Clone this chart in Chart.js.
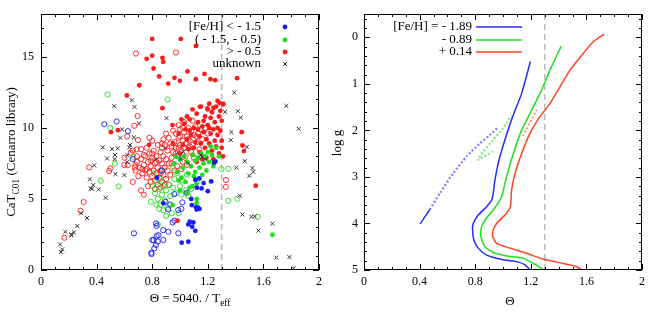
<!DOCTYPE html>
<html>
<head>
<meta charset="utf-8">
<script src="https://cdn.jsdelivr.net/npm/chart.js@4.4.0/dist/chart.umd.min.js"></script>
<style>
html, body { margin: 0; padding: 0; background: #fff; }
#wrap { position: relative; width: 656px; height: 313px; }
.pane { position: absolute; top: 0; width: 328px; height: 313px; }
</style>
</head>
<body>
<div id="wrap">
  <div class="pane" style="left:0"><canvas id="catChart"></canvas></div>
  <div class="pane" style="left:328px"><canvas id="isoChart"></canvas></div>
</div>
<script>
(function(){
    "use strict";

    // axis ticks
    var thetaTicks = [0, 0.4, 0.8, 1.2, 1.6, 2];
    var thetaLabels = ["0", "0.4", "0.8", "1.2", "1.6", "2"];
    var catTicks = [0, 5, 10, 15];
    var loggTicks = [0, 1, 2, 3, 4, 5];
    var thetaCut = 1.3;

    // left panel: CaT index vs theta, [x, y]
    var metalClasses = ["[Fe/H] < - 1.5", "( - 1.5, - 0.5)", "> - 0.5", "unknown"];

    var redOpen = [
        [0.683,15.23],[0.971,15.31],[0.695,10.83],[0.671,10.15],[0.698,9.14],[0.688,8.49],[0.645,8.25],[0.66,8.4],
        [0.624,7.38],[0.60,7.38],[0.68,7.4],[0.675,7.2],[0.50,7.15],[0.49,6.96],[0.347,7.22],[0.307,4.78],
        [0.285,4.17],[0.168,2.27],[0.62,9.4],[0.60,7.9],[0.66,6.2],[1.33,6.33],[1.33,5.85],
        [0.72,7.8],[0.74,7.4],[0.75,8.0],[0.76,7.1],[0.77,7.6],[0.78,6.9],[0.78,8.2],[0.79,7.3],[0.80,6.6],
        [0.80,7.9],[0.81,7.0],[0.81,8.4],[0.82,6.3],[0.82,7.5],[0.83,6.8],[0.83,8.0],[0.84,7.2],[0.84,6.0],
        [0.85,7.7],[0.85,6.5],[0.86,8.3],[0.86,7.0],[0.87,6.2],[0.87,7.5],[0.88,8.0],[0.88,6.7],[0.89,7.2],
        [0.89,8.8],[0.90,7.8],[0.90,6.4],[0.91,7.0],[0.91,8.4],[0.92,7.5],[0.92,6.0],[0.79,6.2],[0.77,5.9],
        [0.76,6.5],[0.75,7.0],[0.73,6.8],[0.71,7.2],[0.70,6.6],[0.69,7.6],[0.68,7.0],[0.72,5.6],[0.74,5.3],
        [0.82,5.7],[0.86,5.8],[0.93,8.9],[0.94,7.9],[0.72,8.5],[0.80,9.1],[0.69,8.0],[0.76,8.6],[0.78,9.3],
        [0.84,8.8],[0.89,6.0],[0.73,7.1],[0.83,7.6],[0.87,8.6],[0.80,8.2],[0.74,8.1],[0.86,6.8],[0.79,7.7],
        [0.95,8.3],[0.96,9.0],[0.97,8.6],[0.97,9.6],[0.98,8.0],[0.99,9.3],[1.00,8.8],[1.00,9.9],[1.01,8.4],
        [1.02,9.1],[1.02,7.6],[1.03,9.7],[1.04,8.9],[1.04,8.0],[1.05,9.4],[1.06,8.6],[1.06,10.0],[1.07,9.1],
        [1.08,8.3],[1.08,9.8],[1.09,8.8],[1.10,9.5],[1.10,7.9],[1.11,10.1],[1.12,9.0],[1.13,9.6],[1.14,8.5],
        [1.15,9.9],[1.16,9.2],[1.18,10.0],[1.20,9.6],[0.98,7.3],[0.96,7.0],[0.94,7.5],[1.01,7.1],[1.05,7.4],
        [0.93,6.7],[0.99,10.2],[1.03,10.4],[0.95,9.8],[0.92,9.3],[0.90,9.6],[0.88,9.2],[0.87,8.9],[1.09,10.5],
        [0.97,8.2],[1.00,9.4],[1.03,8.6],[1.06,9.2],[0.99,8.6],[1.02,10.0],[1.07,8.7],[1.12,9.4],[0.94,8.7]
    ];
    var greenOpen = [
        [0.479,12.35],[0.911,12.0],[0.498,10.0],[0.532,7.48],[0.558,5.88],[0.43,6.28],[0.665,7.95],
        [1.298,7.1],[1.348,7.12],[1.348,4.87],[1.413,5.01],[1.559,3.73],
        [0.80,5.9],[0.82,5.4],[0.83,6.2],[0.84,5.0],[0.85,5.7],[0.86,4.6],[0.86,6.4],[0.87,5.3],[0.88,4.2],
        [0.88,5.9],[0.89,4.9],[0.90,5.6],[0.91,4.4],[0.92,6.0],[0.93,5.2],[0.94,4.0],[0.95,5.8],[0.96,6.4],
        [0.97,5.4],[0.98,6.8],[1.00,5.9],[1.01,5.3],[1.02,6.3],[1.04,5.6],[1.06,5.2],[1.08,5.7],[0.84,3.2],
        [0.85,4.3],[0.99,4.0],[0.79,4.8],[0.81,6.8],[0.87,7.0],[1.05,6.7],[0.90,3.8],[0.95,7.2],[0.83,4.6]
    ];
    var blueOpen = [
        [0.455,10.26],[0.544,10.45],[0.625,9.77],[0.669,2.58],[0.66,7.8],[0.795,1.12],[0.81,2.1],[0.80,2.11],
        [0.815,1.53],[0.826,1.75],[0.794,1.22],[0.827,3.28],[0.832,3.1],[0.832,2.39],[0.845,2.45],[0.84,2.0],
        [0.88,2.11],[0.879,2.81],[0.916,2.69],[0.947,3.35],[0.96,3.47],[0.988,2.58],[0.987,4.22],[1.017,4.76],
        [1.01,4.3],[0.959,5.34],[1.048,5.44],[0.915,4.27],[0.896,4.8],[0.93,4.6],[0.87,7.0],[0.99,8.1]
    ];
    var redFilled = [
        [0.80,16.26],[1.006,16.26],[1.114,15.77],[0.76,14.86],[0.80,15.09],[0.874,14.93],[0.879,14.65],
        [0.81,14.18],[1.054,13.97],[1.176,13.80],[0.85,13.62],[0.96,13.52],[1.114,13.43],[1.219,13.43],
        [1.253,13.36],[1.41,13.5],[0.999,13.31],[0.915,13.12],[0.707,13.0],[0.618,12.28],[0.503,9.70],
        [0.553,9.84],[0.946,10.2],[0.778,8.81],[0.982,3.47],[1.444,9.7],[1.449,8.76],[1.46,8.37],
        [1.545,5.93],[1.31,11.65],[0.874,11.39],[1.144,11.48],[1.197,11.37],[1.283,11.77],
        [1.00,8.2],[1.02,8.8],[1.03,10.3],[1.05,9.2],[1.06,8.5],[1.07,10.6],[1.08,9.5],[1.09,8.1],[1.10,10.0],
        [1.11,9.0],[1.12,11.0],[1.13,10.4],[1.14,9.4],[1.14,8.3],[1.15,11.5],[1.16,10.1],[1.17,9.7],[1.18,8.6],
        [1.18,10.8],[1.19,9.2],[1.20,11.3],[1.20,10.2],[1.21,8.9],[1.22,9.6],[1.22,10.7],[1.23,11.1],[1.23,8.4],
        [1.24,9.9],[1.25,10.4],[1.25,9.1],[1.26,11.5],[1.26,8.7],[1.27,10.0],[1.27,9.5],[1.28,10.8],[1.28,8.2],
        [1.29,11.2],[1.29,9.8],[1.30,10.5],[1.30,9.1],[1.31,11.7],[1.31,8.0],[1.16,7.8],[1.12,7.6],[1.05,10.8],
        [1.09,11.3],[1.21,11.7],[1.19,7.9],[0.95,8.9],[0.99,9.6],[1.04,9.9],[1.01,10.6],[1.10,8.6],[1.15,8.9],
        [1.24,7.8],[1.30,8.6],[1.27,11.9],[1.13,9.9],[1.17,10.5],[1.21,10.0],[1.24,11.4],[1.07,9.8]
    ];
    var greenFilled = [
        [0.96,7.5],[0.98,6.9],[1.00,7.8],[1.01,6.5],[1.02,7.2],[1.03,8.0],[1.04,6.2],[1.05,7.6],[1.06,6.8],
        [1.07,5.8],[1.08,7.3],[1.09,8.1],[1.10,6.6],[1.11,7.7],[1.12,6.1],[1.13,7.9],[1.14,7.2],[1.15,8.2],
        [1.16,6.7],[1.17,7.5],[1.18,8.0],[1.19,7.0],[1.20,8.3],[1.21,7.6],[1.23,8.1],[1.24,7.3],[1.26,8.6],
        [1.28,8.0],[1.00,5.6],[1.05,5.4],[1.09,5.9],[0.99,6.3],[1.11,6.9],[1.14,6.4],[1.22,8.7],[0.97,8.0],
        [1.665,2.48],[0.947,4.57],[1.12,5.0],[1.12,4.7]
    ];
    var blueFilled = [
        [0.834,6.49],[0.88,4.69],[1.012,1.92],[1.06,1.99],[1.081,5.0],[1.085,4.57],[1.115,4.41],[1.13,4.38],
        [1.14,4.30],[1.12,4.25],[1.06,3.21],[1.096,3.35],[1.088,3.04],[1.11,2.76],[1.07,3.40],[1.121,5.79],
        [1.155,5.74],[1.17,6.12],[1.20,5.55],[1.224,6.23],[1.255,7.64],[1.245,7.55],[1.138,6.45],[1.11,6.35]
    ];
    var unknownStars = [
        [0.137,1.80],[0.144,1.27],[0.153,1.45],[0.175,2.69],[0.216,2.51],[0.22,2.44],[0.237,2.65],[0.261,3.09],
        [0.288,3.99],[0.331,3.66],[0.352,6.38],[0.357,5.74],[0.376,5.98],[0.367,5.72],[0.383,7.36],[0.415,5.67],
        [0.444,8.63],[0.465,5.08],[0.475,7.85],[0.511,8.51],[0.53,7.8],[0.527,11.53],[0.535,6.75],[0.532,8.09],
        [0.552,8.56],[0.571,9.3],[0.583,9.89],[0.60,6.68],[0.621,8.09],[0.62,7.6],[0.635,8.63],[0.64,8.8],
        [0.652,11.95],[0.669,9.33],[0.673,11.48],[0.705,10.31],[0.903,10.69],[0.897,8.56],[0.827,7.78],
        [1.024,8.32],[1.151,8.09],[1.18,7.78],[1.005,7.8],[1.058,7.5],[1.324,11.13],[1.39,12.49],[1.416,11.18],
        [1.437,10.73],[1.37,9.7],[1.365,9.14],[1.48,8.65],[1.406,7.2],[1.466,7.66],[1.499,6.63],[1.521,7.17],
        [1.528,6.91],[1.43,5.23],[1.449,3.91],[1.514,3.75],[1.538,3.77],[1.564,2.77],[1.665,3.26],[1.693,0.87],
        [1.787,0.91],[1.765,11.55],[1.854,9.94],[1.818,0.12],[1.245,7.57],[1.157,7.97]
    ];

    // right panel: isochrones, [theta, log g]
    var isoMetals = ["[Fe/H] = - 1.89", "- 0.89", "+ 0.14"];
    var isoBlue = [[1.197,0.52],[1.135,1.2],[1.07,1.70],[1.014,2.2],[0.971,2.64],[0.942,3.07],[0.93,3.35],
        [0.918,3.5],[0.882,3.64],[0.822,3.82],[0.786,4.0],[0.781,4.14],[0.791,4.36],[0.822,4.53],[0.882,4.68],
        [1.002,4.78],[1.099,4.82],[1.159,4.89],[1.195,5.0]];
    var isoGreen = [[1.418,0.19],[1.339,0.70],[1.267,1.2],[1.195,1.63],[1.135,1.99],[1.075,2.49],[1.026,2.99],
        [0.998,3.35],[0.978,3.50],[0.93,3.71],[0.87,3.93],[0.846,4.07],[0.841,4.28],[0.87,4.50],[0.942,4.64],
        [1.05,4.71],[1.147,4.75],[1.219,4.86],[1.291,4.99]];
    var isoRed = [[1.728,-0.07],[1.651,0.09],[1.579,0.34],[1.483,0.70],[1.411,1.06],[1.339,1.42],[1.267,1.70],
        [1.195,2.06],[1.135,2.49],[1.087,2.92],[1.062,3.28],[1.053,3.64],[1.026,3.78],[0.954,4.0],[0.93,4.14],
        [0.926,4.28],[0.954,4.43],[1.05,4.53],[1.171,4.64],[1.291,4.77],[1.435,4.86],[1.531,4.93],[1.567,5.0]];
    var blueStub = [[0.404,4.01],[0.474,3.70]];
    var hbBlue = [[0.474,3.70],[0.546,3.35],[0.642,2.92],[0.738,2.56],[0.834,2.28],[0.906,2.10],[0.966,1.93]];
    var hbGreen = [[0.93,2.45],[0.82,2.63],[0.86,2.45],[0.93,2.2],[1.0,1.95],[1.06,1.68]];
    var hbRed = [[1.142,2.12],[1.243,1.56]];

    var serif = "'Liberation Serif', 'DejaVu Serif', serif";
    var cBlue = "#1a1aff", cGreen = "#1fdc1f", cRed = "#ff1a1a", cCross = "#333333";
    var lBlue = "#2a2aff", lGreen = "#22dd22", lRed = "#ff4422";

    Chart.defaults.font.family = serif;
    Chart.defaults.color = "#000";
    Chart.defaults.animation = false;

    function xy(list) {
        return list.map(function(p){ return {x: p[0], y: p[1]}; });
    }

    function scale(min, max, values, labels, pad, width, horiz, reverse) {
        return {
            type: "linear", min: min, max: max, reverse: !!reverse,
            grid: {display: false, drawTicks: false},
            border: {display: false},
            ticks: {
                font: {size: 12, family: serif}, color: "#000", padding: pad,
                callback: function(v){
                    var i = values.indexOf(v);
                    return i < 0 ? "" : labels[i];
                }
            },
            afterBuildTicks: function(s){ s.ticks = values.map(function(v){ return {value: v}; }); },
            afterFit: function(s){ if (horiz) { s.height = width; } else { s.width = width; } }
        };
    }

    var framePlugin = {
        id: "frame",
        afterDraw: function(chart, args, opts) {
            var ctx = chart.ctx, a = chart.chartArea;
            ctx.save();
            ctx.strokeStyle = "#000";
            ctx.lineWidth = 1;
            ctx.strokeRect(Math.round(a.left) + 0.5, Math.round(a.top) + 0.5,
                Math.round(a.width) - 1, Math.round(a.height) - 1);
            function marks(sc, step, horiz) {
                var majors = sc.ticks.map(function(t){ return t.value; });
                var lo = Math.min(sc.min, sc.max), hi = Math.max(sc.min, sc.max);
                for (var i = Math.ceil(lo / step - 1e-6); i * step <= hi + 1e-6; i++) {
                    var v = i * step;
                    var big = majors.some(function(m){ return Math.abs(m - v) < 1e-6; });
                    var len = big ? 6 : 3;
                    var p = Math.round(sc.getPixelForValue(v)) + 0.5;
                    ctx.beginPath();
                    if (horiz) {
                        ctx.moveTo(p, a.bottom); ctx.lineTo(p, a.bottom - len);
                        ctx.moveTo(p, a.top); ctx.lineTo(p, a.top + len);
                    } else {
                        ctx.moveTo(a.left, p); ctx.lineTo(a.left + len, p);
                        ctx.moveTo(a.right, p); ctx.lineTo(a.right - len, p);
                    }
                    ctx.stroke();
                }
            }
            marks(chart.scales.x, opts.minorX, true);
            marks(chart.scales.y, opts.minorY, false);
            ctx.restore();
        }
    };

    // text with subscripts, centred on cx, baseline cy
    function subText(ctx, parts, cx, cy, size) {
        var total = 0, x;
        parts.forEach(function(p){
            ctx.font = (p[1] ? size * 0.72 : size) + "px " + serif;
            total += ctx.measureText(p[0]).width;
        });
        x = cx - total / 2;
        ctx.textAlign = "left";
        ctx.textBaseline = "alphabetic";
        parts.forEach(function(p){
            ctx.font = (p[1] ? size * 0.72 : size) + "px " + serif;
            ctx.fillText(p[0], x, cy + (p[1] ? size * 0.28 : 0));
            x += ctx.measureText(p[0]).width;
        });
    }

    var catDeco = {
        id: "catDeco",
        afterDraw: function(chart) {
            var ctx = chart.ctx;
            ctx.save();
            ctx.fillStyle = "#000";
            subText(ctx, [["\u0398 = 5040. / T", false], ["eff", true]], 190, 302, 13);
            ctx.translate(15, 152);
            ctx.rotate(-Math.PI / 2);
            subText(ctx, [["CaT", false], ["C01", true], [" (Cenarro library)", false]], 0, 0, 13);
            ctx.restore();

            ctx.save();
            ctx.font = "13px " + serif;
            ctx.fillStyle = "#000";
            ctx.textAlign = "right";
            ctx.textBaseline = "middle";
            var rows = [27, 40, 52, 64];
            var cols = [cBlue, cGreen, cRed, null];
            metalClasses.forEach(function(t, i){
                ctx.fillStyle = "#000";
                ctx.fillText(t, 261, rows[i]);
                if (cols[i]) {
                    ctx.fillStyle = cols[i];
                    ctx.beginPath();
                    ctx.arc(285, rows[i], 2.4, 0, Math.PI * 2);
                    ctx.fill();
                } else {
                    ctx.strokeStyle = cCross;
                    ctx.lineWidth = 1;
                    ctx.beginPath();
                    ctx.moveTo(283, rows[i] - 2); ctx.lineTo(287, rows[i] + 2);
                    ctx.moveTo(283, rows[i] + 2); ctx.lineTo(287, rows[i] - 2);
                    ctx.stroke();
                }
            });
            ctx.restore();
        }
    };

    var isoDeco = {
        id: "isoDeco",
        afterDraw: function(chart) {
            var ctx = chart.ctx;
            ctx.save();
            ctx.fillStyle = "#000";
            subText(ctx, [["\u0398", false]], 182, 305, 13);
            ctx.translate(13, 143);
            ctx.rotate(-Math.PI / 2);
            subText(ctx, [["log g", false]], 0, 0, 13);
            ctx.restore();

            ctx.save();
            ctx.font = "13px " + serif;
            ctx.textAlign = "right";
            ctx.textBaseline = "middle";
            var rows = [27, 40, 52];
            var cols = [lBlue, lGreen, lRed];
            isoMetals.forEach(function(t, i){
                ctx.fillStyle = "#000";
                ctx.fillText(t, 144, rows[i]);
                ctx.strokeStyle = cols[i];
                ctx.lineWidth = 1.5;
                ctx.beginPath();
                ctx.moveTo(148, rows[i]); ctx.lineTo(194, rows[i]);
                ctx.stroke();
            });
            ctx.restore();
        }
    };

    function dots(list, color) {
        return {data: xy(list), pointStyle: "circle", pointRadius: 2.4, pointBorderWidth: 0,
            backgroundColor: color, borderColor: color};
    }
    function rings(list, color) {
        return {data: xy(list), pointStyle: "circle", pointRadius: 2.6, pointBorderWidth: 0.9,
            backgroundColor: "rgba(0,0,0,0)", borderColor: color};
    }
    function curve(list, color, dash, width) {
        return {data: xy(list), showLine: true, pointRadius: 0, borderColor: color,
            borderWidth: width || 1.5, borderDash: dash || [], tension: 0.2, fill: false};
    }

    var cutLine = {data: xy([[thetaCut, 0], [thetaCut, 18]]), showLine: true, pointRadius: 0,
        borderColor: "#bdbdbd", borderWidth: 1.5, borderDash: [6, 4]};

    new Chart(document.querySelector("#catChart"), {
        type: "scatter",
        data: {
            datasets: [
                {data: xy(unknownStars), pointStyle: "crossRot", pointRadius: 2.8, pointBorderWidth: 1,
                    borderColor: cCross, backgroundColor: cCross},
                dots(blueFilled, cBlue),
                dots(greenFilled, cGreen),
                dots(redFilled, cRed),
                rings(blueOpen, cBlue),
                rings(greenOpen, cGreen),
                rings(redOpen, cRed),
                cutLine
            ]
        },
        options: {
            responsive: true,
            maintainAspectRatio: false,
            layout: {padding: {top: 14, right: 9, left: 0, bottom: 0}},
            plugins: {legend: {display: false}, tooltip: {enabled: false}, frame: {minorX: 0.1, minorY: 1}},
            scales: {
                x: scale(0, 2, thetaTicks, thetaLabels, 5, 43, true),
                y: scale(0, 18, catTicks, catTicks.map(String), 7, 41, false)
            }
        },
        plugins: [framePlugin, catDeco]
    });

    var cutLine2 = {data: xy([[thetaCut, -0.5], [thetaCut, 5]]), showLine: true, pointRadius: 0,
        borderColor: "#bdbdbd", borderWidth: 1.5, borderDash: [6, 4]};

    new Chart(document.querySelector("#isoChart"), {
        type: "scatter",
        data: {
            datasets: [
                curve(isoBlue, lBlue),
                curve(isoGreen, lGreen),
                curve(isoRed, lRed),
                curve(blueStub, lBlue),
                curve(hbBlue, "#7f7fff", [2, 2], 2.2),
                curve(hbGreen, "#7fe87f", [2, 2], 2.2),
                curve(hbRed, "#ff7f66", [2, 2], 1.5),
                cutLine2
            ]
        },
        options: {
            responsive: true,
            maintainAspectRatio: false,
            layout: {padding: {top: 14, right: 14, left: 0, bottom: 0}},
            plugins: {legend: {display: false}, tooltip: {enabled: false}, frame: {minorX: 0.1, minorY: 0.2}},
            scales: {
                x: scale(0, 2, thetaTicks, thetaLabels, 5, 43, true),
                y: scale(-0.5, 5, loggTicks, loggTicks.map(String), 6, 36, false, true)
            }
        },
        plugins: [framePlugin, isoDeco]
    });
})();
</script>
</body>
</html>
